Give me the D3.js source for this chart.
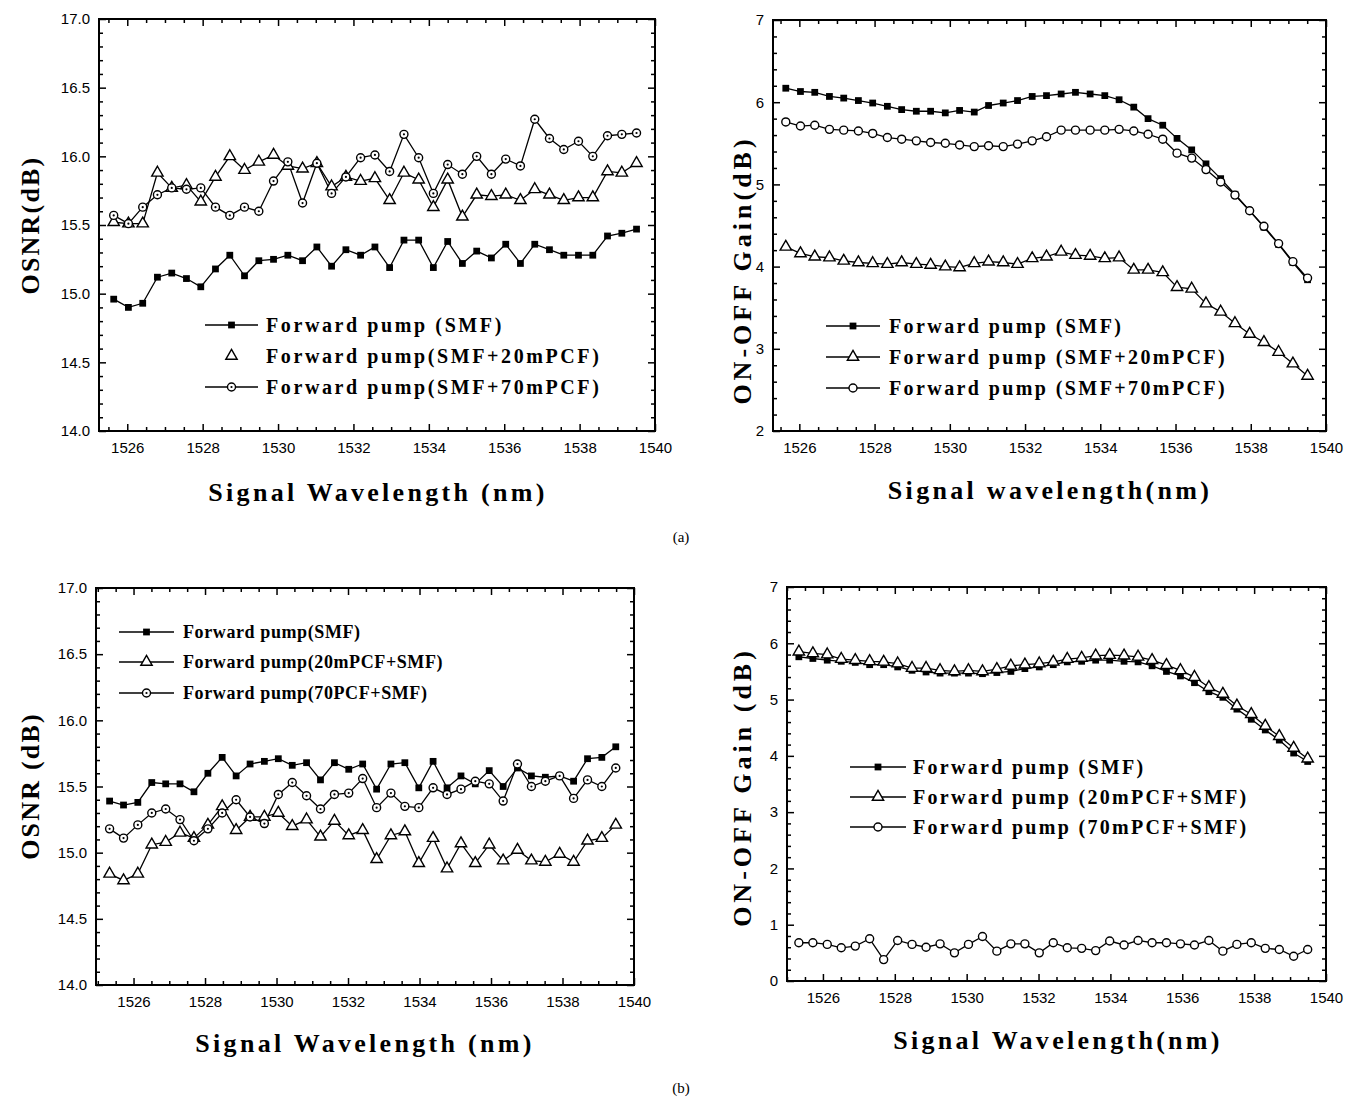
<!DOCTYPE html>
<html><head><meta charset="utf-8">
<script src="https://cdn.jsdelivr.net/npm/d3@7"></script>
<style>body{margin:0;background:#fff} svg{display:block}</style>
</head><body>
<svg id="c" width="1351" height="1101"></svg>
<script>
// ---------- DATA ----------
const waveA = [1525.64,1526.03,1526.41,1526.80,1527.18,1527.57,1527.95,1528.34,1528.72,1529.11,1529.49,1529.88,1530.26,1530.65,1531.03,1531.42,1531.80,1532.19,1532.57,1532.96,1533.34,1533.73,1534.12,1534.50,1534.89,1535.27,1535.66,1536.04,1536.43,1536.81,1537.20,1537.58,1537.97,1538.35,1538.74,1539.12,1539.51];
const waveB = [1525.33,1525.72,1526.12,1526.51,1526.90,1527.30,1527.69,1528.08,1528.48,1528.87,1529.26,1529.66,1530.05,1530.44,1530.84,1531.23,1531.62,1532.02,1532.41,1532.80,1533.20,1533.59,1533.98,1534.38,1534.77,1535.16,1535.56,1535.95,1536.34,1536.74,1537.13,1537.52,1537.92,1538.31,1538.70,1539.10,1539.49];

// (a) left: OSNR
const aOsnrSMF = [14.96,14.90,14.93,15.12,15.15,15.11,15.05,15.18,15.28,15.13,15.24,15.25,15.28,15.24,15.34,15.20,15.32,15.28,15.34,15.19,15.39,15.39,15.19,15.38,15.22,15.31,15.26,15.36,15.22,15.36,15.32,15.28,15.28,15.28,15.42,15.44,15.47];
const aOsnr20 = [15.52,15.51,15.51,15.88,15.77,15.79,15.67,15.85,16.00,15.90,15.96,16.01,15.93,15.91,15.95,15.78,15.85,15.82,15.84,15.68,15.88,15.83,15.63,15.83,15.56,15.72,15.71,15.72,15.68,15.76,15.72,15.68,15.70,15.70,15.89,15.88,15.95];
const aOsnr70 = [15.57,15.51,15.63,15.72,15.77,15.76,15.77,15.63,15.57,15.63,15.60,15.82,15.96,15.66,15.95,15.73,15.85,15.99,16.01,15.89,16.16,15.99,15.73,15.94,15.87,16.00,15.87,15.98,15.93,16.27,16.13,16.05,16.11,16.00,16.15,16.16,16.17];

// (a) right: gain
const aGainSMF = [6.17,6.13,6.12,6.07,6.05,6.02,5.99,5.95,5.91,5.89,5.89,5.87,5.90,5.88,5.96,5.99,6.02,6.07,6.08,6.10,6.12,6.10,6.08,6.03,5.94,5.80,5.72,5.56,5.42,5.25,5.07,4.88,4.68,4.48,4.27,4.05,3.84];
const aGain20 = [4.24,4.16,4.12,4.11,4.07,4.05,4.04,4.03,4.05,4.03,4.02,4.00,3.99,4.04,4.06,4.05,4.03,4.10,4.12,4.18,4.14,4.13,4.10,4.11,3.96,3.96,3.93,3.75,3.73,3.55,3.45,3.31,3.18,3.08,2.96,2.82,2.67];
const aGain70 = [5.76,5.71,5.72,5.67,5.66,5.65,5.62,5.57,5.55,5.53,5.51,5.50,5.48,5.46,5.47,5.46,5.49,5.53,5.58,5.66,5.66,5.66,5.66,5.67,5.65,5.61,5.55,5.38,5.32,5.18,5.03,4.87,4.68,4.49,4.28,4.06,3.86];

// (b) left: OSNR
const bOsnrSMF = [15.39,15.36,15.38,15.53,15.52,15.52,15.46,15.60,15.72,15.58,15.67,15.69,15.71,15.66,15.68,15.55,15.68,15.63,15.67,15.48,15.67,15.68,15.49,15.69,15.49,15.58,15.52,15.62,15.50,15.64,15.58,15.57,15.58,15.54,15.71,15.72,15.80];
const bOsnr20 = [14.84,14.79,14.84,15.06,15.08,15.15,15.11,15.21,15.35,15.17,15.27,15.27,15.30,15.20,15.25,15.12,15.24,15.13,15.17,14.95,15.13,15.16,14.92,15.11,14.88,15.07,14.92,15.06,14.94,15.02,14.94,14.93,14.99,14.93,15.09,15.11,15.21];
const bOsnr70 = [15.18,15.11,15.21,15.30,15.33,15.25,15.09,15.18,15.30,15.40,15.27,15.22,15.44,15.53,15.43,15.33,15.44,15.45,15.56,15.34,15.45,15.35,15.34,15.49,15.44,15.48,15.54,15.52,15.39,15.67,15.50,15.54,15.58,15.41,15.55,15.50,15.64];

// (b) right: gain
const bGainSMF = [5.76,5.73,5.70,5.68,5.66,5.62,5.62,5.58,5.52,5.49,5.47,5.47,5.47,5.46,5.48,5.50,5.55,5.58,5.62,5.67,5.68,5.70,5.70,5.68,5.67,5.60,5.50,5.42,5.30,5.14,5.04,4.83,4.65,4.46,4.28,4.05,3.90];
const bGain20 = [5.85,5.82,5.80,5.72,5.70,5.68,5.67,5.64,5.56,5.56,5.52,5.50,5.52,5.50,5.54,5.60,5.62,5.64,5.67,5.72,5.74,5.78,5.79,5.78,5.76,5.70,5.61,5.52,5.40,5.22,5.10,4.89,4.74,4.53,4.35,4.14,3.95];
const bGain70 = [0.68,0.68,0.65,0.59,0.62,0.75,0.38,0.72,0.65,0.60,0.66,0.50,0.65,0.79,0.53,0.66,0.66,0.50,0.68,0.59,0.58,0.54,0.71,0.64,0.72,0.68,0.68,0.66,0.64,0.72,0.53,0.65,0.68,0.58,0.56,0.44,0.56];

// tick values
const xTicks = [1526,1528,1530,1532,1534,1536,1538,1540];
const osnrTicks = [14.0,14.5,15.0,15.5,16.0,16.5,17.0];
const gainTicksA = [2,3,4,5,6,7];
const gainTicksB = [0,1,2,3,4,5,6,7];

// legend labels
const legA1 = ["Forward pump (SMF)","Forward pump(SMF+20mPCF)","Forward pump(SMF+70mPCF)"];
const legA2 = ["Forward pump (SMF)","Forward pump (SMF+20mPCF)","Forward pump (SMF+70mPCF)"];
const legB1 = ["Forward pump(SMF)","Forward pump(20mPCF+SMF)","Forward pump(70PCF+SMF)"];
const legB2 = ["Forward pump (SMF)","Forward pump (20mPCF+SMF)","Forward pump (70mPCF+SMF)"];

// ---------- DRAW ----------
const svg = d3.select('#c');
const SERIF = "'Liberation Serif','Times New Roman',serif";
const SANS = "'Liberation Sans',Arial,sans-serif";

function drawMarker(g, type, cx, cy, dotted){
  if(type==='sq'){
    g.append('path').attr('d', d3.symbol().type(d3.symbolSquare).size(46)())
      .attr('transform',`translate(${cx},${cy})`).attr('fill','#000');
  } else if(type==='tri'){
    g.append('path').attr('d', d3.symbol().type(d3.symbolTriangle).size(56)())
      .attr('transform',`translate(${cx},${cy})`).attr('fill','#fff').attr('stroke','#000').attr('stroke-width',1.4);
  } else {
    g.append('circle').attr('cx',cx).attr('cy',cy).attr('r',4).attr('fill','#fff').attr('stroke','#000').attr('stroke-width',1.4);
    if(dotted) g.append('circle').attr('cx',cx).attr('cy',cy).attr('r',1.1).attr('fill','#000');
  }
}

function panel(o){
  const g = svg.append('g');
  const x = d3.scaleLinear().domain(o.xDomain).range([o.left,o.right]);
  const y = d3.scaleLinear().domain(o.yDomain).range([o.bottom,o.top]);
  const xMinor = d3.range(Math.ceil(o.xDomain[0]*2)/2, o.xDomain[1]+0.001, 0.5).filter(v=>Math.abs(v%2)>0.01);
  const yMinor = d3.range(o.yDomain[0], o.yDomain[1]+1e-6, o.yMinorStep).filter(v=>!o.yTicks.some(t=>Math.abs(t-v)<1e-6));

  const styleAxis = a => { a.select('.domain').remove(); a.selectAll('line').attr('stroke','#000').attr('stroke-width',1.5); };
  // bottom
  g.append('g').attr('transform',`translate(0,${o.bottom})`)
    .call(d3.axisBottom(x).tickValues(xTicks).tickSize(-7).tickPadding(11).tickFormat(d3.format('d')))
    .call(styleAxis).call(a=>a.selectAll('text').attr('font-family',SANS).attr('font-size',15).attr('fill','#000'));
  g.append('g').attr('transform',`translate(0,${o.bottom})`)
    .call(d3.axisBottom(x).tickValues(xMinor).tickSize(-4).tickFormat('')).call(styleAxis);
  // top
  g.append('g').attr('transform',`translate(0,${o.top})`)
    .call(d3.axisTop(x).tickValues(xTicks).tickSize(-7).tickFormat('')).call(styleAxis);
  g.append('g').attr('transform',`translate(0,${o.top})`)
    .call(d3.axisTop(x).tickValues(xMinor).tickSize(-4).tickFormat('')).call(styleAxis);
  // left
  g.append('g').attr('transform',`translate(${o.left},0)`)
    .call(d3.axisLeft(y).tickValues(o.yTicks).tickSize(-7).tickPadding(9).tickFormat(d3.format(o.yFmt)))
    .call(styleAxis).call(a=>a.selectAll('text').attr('font-family',SANS).attr('font-size',15).attr('fill','#000'));
  g.append('g').attr('transform',`translate(${o.left},0)`)
    .call(d3.axisLeft(y).tickValues(yMinor).tickSize(-4).tickFormat('')).call(styleAxis);
  // right
  g.append('g').attr('transform',`translate(${o.right},0)`)
    .call(d3.axisRight(y).tickValues(o.yTicks).tickSize(-7).tickFormat('')).call(styleAxis);
  g.append('g').attr('transform',`translate(${o.right},0)`)
    .call(d3.axisRight(y).tickValues(yMinor).tickSize(-4).tickFormat('')).call(styleAxis);

  // frame
  g.append('rect').attr('x',o.left).attr('y',o.top).attr('width',o.right-o.left).attr('height',o.bottom-o.top)
    .attr('fill','none').attr('stroke','#000').attr('stroke-width',2);

  // series
  const line = d3.line().x(d=>x(d[0])).y(d=>y(d[1]));
  o.series.forEach(s=>{
    const pts = o.wave.map((w,i)=>[w,s.values[i]]);
    g.append('path').attr('d',line(pts)).attr('fill','none').attr('stroke','#000').attr('stroke-width',1.3);
  });
  o.series.forEach(s=>{
    o.wave.forEach((w,i)=>drawMarker(g, s.type, x(w), y(s.values[i]), s.dotted));
  });

  // legend
  o.series.forEach((s,i)=>{
    const ly = o.leg.rows[i];
    if(!s.noLegLine){
      g.append('line').attr('x1',o.leg.x1).attr('x2',o.leg.x2).attr('y1',ly).attr('y2',ly)
        .attr('stroke','#000').attr('stroke-width',1.5);
    }
    drawMarker(g, s.type, (o.leg.x1+o.leg.x2)/2, ly, s.dotted);
    g.append('text').attr('x',o.leg.tx).attr('y',ly).attr('dominant-baseline','central')
      .attr('font-family',SERIF).attr('font-weight','bold').attr('font-size',o.leg.fs)
      .attr('letter-spacing',o.leg.ls).attr('fill','#000').text(o.leg.labels[i]);
  });

  // axis titles
  g.append('text').attr('x',o.xt[0]).attr('y',o.xt[1]).attr('text-anchor','middle').attr('dominant-baseline','central')
    .attr('font-family',SERIF).attr('font-weight','bold').attr('font-size',26).attr('letter-spacing',3.3)
    .attr('fill','#000').text(o.xTitle);
  g.append('text').attr('transform',`translate(${o.yt[0]},${o.yt[1]}) rotate(-90)`).attr('text-anchor','middle')
    .attr('dominant-baseline','central')
    .attr('font-family',SERIF).attr('font-weight','bold').attr('font-size',26).attr('letter-spacing',o.yls)
    .attr('fill','#000').text(o.yTitle);
}

panel({left:99,right:655,top:19,bottom:431,xDomain:[1525.25,1540],yDomain:[14,17],yTicks:osnrTicks,yMinorStep:0.1,yFmt:'.1f',
  wave:waveA,
  series:[{values:aOsnrSMF,type:'sq'},{values:aOsnr20,type:'tri',noLegLine:true},{values:aOsnr70,type:'circ',dotted:true}],
  leg:{rows:[325,356,387],x1:205,x2:258,tx:266,fs:20,ls:2.6,labels:legA1},
  xTitle:'Signal Wavelength (nm)',xt:[378,492],yTitle:'OSNR(dB)',yt:[30,225],yls:2.2});

panel({left:773,right:1326,top:20,bottom:431,xDomain:[1525.3,1540],yDomain:[2,7],yTicks:gainTicksA,yMinorStep:0.2,yFmt:'d',
  wave:waveA,
  series:[{values:aGainSMF,type:'sq'},{values:aGain20,type:'tri'},{values:aGain70,type:'circ'}],
  leg:{rows:[326,357,388],x1:826,x2:880,tx:889,fs:20,ls:2.4,labels:legA2},
  xTitle:'Signal wavelength(nm)',xt:[1050,490],yTitle:'ON-OFF Gain(dB)',yt:[742,270],yls:4});

panel({left:96,right:634,top:588,bottom:985,xDomain:[1524.95,1540],yDomain:[14,17],yTicks:osnrTicks,yMinorStep:0.1,yFmt:'.1f',
  wave:waveB,
  series:[{values:bOsnrSMF,type:'sq'},{values:bOsnr20,type:'tri'},{values:bOsnr70,type:'circ',dotted:true}],
  leg:{rows:[632,662,693],x1:119,x2:174,tx:183,fs:18,ls:0.6,labels:legB1},
  xTitle:'Signal Wavelength (nm)',xt:[365,1043],yTitle:'OSNR (dB)',yt:[30,786],yls:2.2});

panel({left:787,right:1326,top:587,bottom:981,xDomain:[1525,1540],yDomain:[0,7],yTicks:gainTicksB,yMinorStep:0.2,yFmt:'d',
  wave:waveB,
  series:[{values:bGainSMF,type:'sq'},{values:bGain20,type:'tri'},{values:bGain70,type:'circ'}],
  leg:{rows:[767,797,827],x1:850,x2:906,tx:913,fs:20,ls:2.3,labels:legB2},
  xTitle:'Signal Wavelength(nm)',xt:[1058,1040],yTitle:'ON-OFF Gain (dB)',yt:[742,787],yls:4});

// captions
svg.append('text').attr('x',681).attr('y',537).attr('text-anchor','middle').attr('dominant-baseline','central')
  .attr('font-family',SERIF).attr('font-size',15).attr('fill','#000').text('(a)');
svg.append('text').attr('x',681).attr('y',1088).attr('text-anchor','middle').attr('dominant-baseline','central')
  .attr('font-family',SERIF).attr('font-size',15).attr('fill','#000').text('(b)');
</script>
</body></html>
